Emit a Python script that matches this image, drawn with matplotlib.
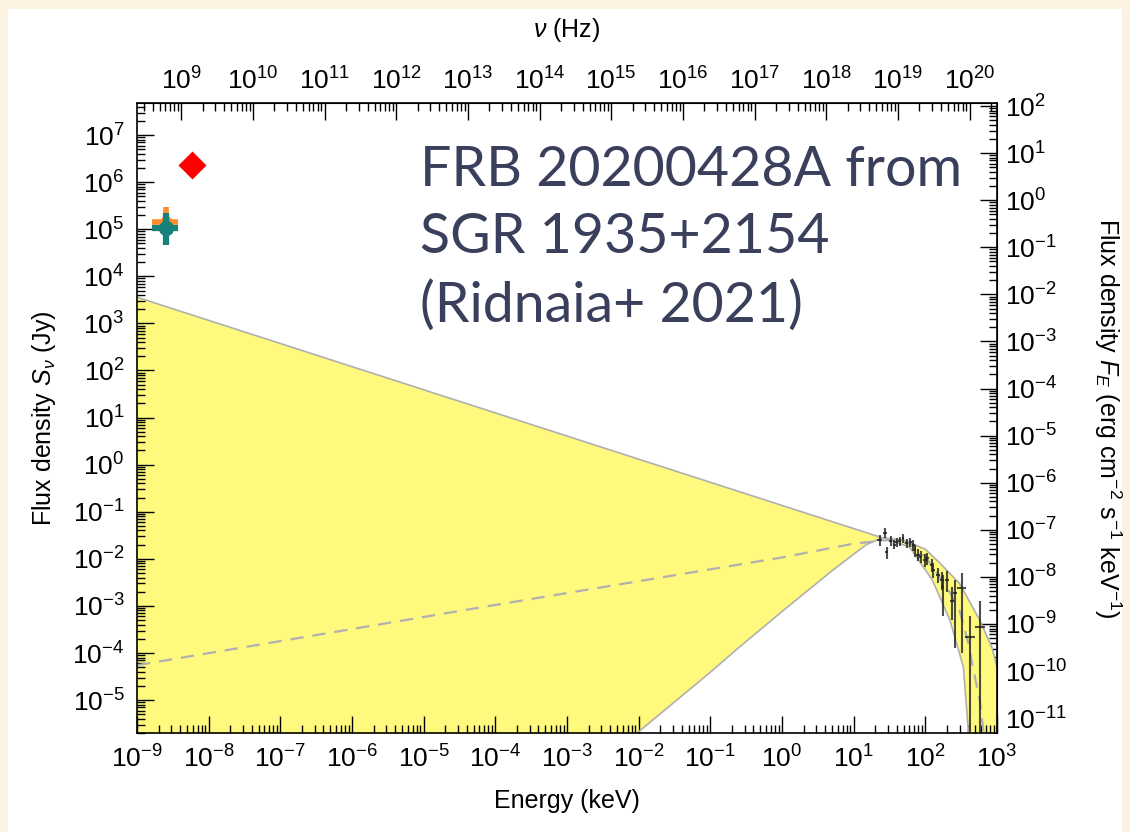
import matplotlib
matplotlib.use("Agg")
import matplotlib.pyplot as plt
import matplotlib.ticker as mticker
from matplotlib.patches import Rectangle
import numpy as np

plt.rcParams['font.family'] = ['Liberation Sans', 'DejaVu Sans']
plt.rcParams['mathtext.fontset'] = 'custom'
plt.rcParams['mathtext.rm'] = 'Liberation Sans'
plt.rcParams['mathtext.it'] = 'Liberation Sans:italic'
plt.rcParams['mathtext.bf'] = 'Liberation Sans:bold'

# keV -> Hz and Jy -> erg cm^-2 s^-1 keV^-1
KEV_TO_HZ = 2.418e17
JY_TO_FE = 2.418e-6

# --- model envelope ---
upper_E = [1e-9, 25, 50, 100, 160, 300, 575, 850, 1000]
upper_S = [3.6e3, 2.8e-2, 2.5e-2, 1.6e-2, 8.1e-3, 3.0e-3, 5.0e-4, 1.3e-4, 5.0e-5]
lower_E = [9.5e-3, 0.1, 0.234, 1.0, 5.0, 15, 25, 60, 126, 220, 340, 400]
lower_S = [2.0e-6, 3.9e-5, 1.2e-4, 7.6e-4, 5.6e-3, 2.0e-2, 2.8e-2, 1.8e-2, 3.5e-3, 5.0e-4, 5.0e-5, 2.0e-6]
dash_E = [1e-9, 1e-4, 1.0, 10, 30, 60, 100, 200, 300, 400, 460, 575, 650]
dash_S = [5.5e-5, 1.05e-3, 1.07e-2, 2.1e-2, 2.5e-2, 2.1e-2, 1.1e-2, 2.5e-3, 8.0e-4, 1.6e-4, 5.0e-5, 1.0e-5, 2.0e-6]

# --- X-ray data points ---
xr_E = [23, 27.5, 29, 33, 37, 40, 44, 49, 55, 62, 68, 72, 79, 86, 99, 106,
        123, 130, 152, 170, 175, 200, 235, 260, 325, 420, 575]
xr_Elo = [21.5, 26, 27.5, 31.5, 35.5, 38, 42, 47, 52.5, 59, 65, 69, 75, 82, 94, 101,
          116, 123, 143, 160, 165, 188, 220, 243, 280, 360, 490]
xr_Ehi = [24.5, 29, 30.5, 34.5, 38.5, 42, 46, 51, 57.5, 65, 71, 75, 83, 90, 104, 111,
          130, 137, 161, 180, 185, 212, 250, 277, 370, 490, 670]
xr_S = [0.0251, 0.0355, 0.0138, 0.024, 0.020, 0.0224, 0.0234, 0.0275, 0.0214, 0.0224,
        0.0195, 0.0151, 0.012, 0.011, 0.0093, 0.0102, 0.0074, 0.0058, 0.0045, 0.0035,
        0.0025, 0.0035, 0.0013, 0.0019, 0.0024, 2.2e-4, 3.5e-4]
xr_Slo = [0.019, 0.028, 0.010, 0.019, 0.016, 0.018, 0.019, 0.022, 0.017, 0.018,
          0.015, 0.011, 0.009, 0.008, 0.0068, 0.0075, 0.0052, 0.0040, 0.0030, 0.0022,
          0.0006, 0.0020, 0.0005, 0.00013, 0.0001, 1e-6, 1e-6]
xr_Shi = [0.032, 0.045, 0.018, 0.030, 0.025, 0.028, 0.029, 0.034, 0.027, 0.028,
          0.025, 0.020, 0.016, 0.015, 0.0125, 0.0135, 0.010, 0.0082, 0.0065, 0.0052,
          0.0045, 0.0055, 0.0025, 0.0035, 0.0050, 6.0e-4, 1.3e-3]

# --- radio points ---
radio_E = [2.5e-9]
orange_S, orange_Slo, orange_Shi = [1.4e5], [6.8e4], [2.95e5]
teal_S, teal_Slo, teal_Shi = [1.05e5], [4.6e4], [2.2e5]
radio_Elo, radio_Ehi = [1.62e-9], [3.7e-9]
red_E, red_S = [5.9e-9], [2.3e6]

fig = plt.figure(figsize=(11.3, 8.32), dpi=100, facecolor='#fdf3e3')
fig.patches.append(Rectangle((8 / 1130, 0), 1114 / 1130, 823 / 832,
                             transform=fig.transFigure, facecolor='white',
                             edgecolor='none', zorder=-10))
ax = fig.add_axes([137 / 1130, 1 - 733 / 832, 860 / 1130, 630 / 832])
ax.set_xscale('log')
ax.set_yscale('log')
ax.patch.set_alpha(0)

# yellow envelope: everything under the upper curve except the notch under the lower curve
poly_E = upper_E + [1000, 1000] + lower_E[::-1] + [1e-9]
poly_S = upper_S + [1e-7, 1e-7] + lower_S[::-1] + [1e-7]
ax.fill(poly_E, poly_S, color='#fffa7d', lw=0, zorder=1)
ax.plot(upper_E, upper_S, color='#b0b0b0', lw=1.2, zorder=2)
ax.plot(lower_E, lower_S, color='#b0b0b0', lw=1.2, zorder=2)
ax.plot(dash_E, dash_S, color='#b0b0b0', lw=1.6, ls=(0, (6, 4)), zorder=2)

# X-ray data
xr_E_a = np.array(xr_E)
xr_S_a = np.array(xr_S)
xerr = [xr_E_a - np.array(xr_Elo), np.array(xr_Ehi) - xr_E_a]
yerr = [xr_S_a - np.array(xr_Slo), np.array(xr_Shi) - xr_S_a]
ax.errorbar(xr_E, xr_S, xerr=xerr, yerr=yerr, fmt='none', ecolor='#222222',
            elinewidth=1.5, alpha=0.8, zorder=3)

# radio points
rE = np.array(radio_E)
xerr_r = [rE - np.array(radio_Elo), np.array(radio_Ehi) - rE]
ax.errorbar(radio_E, orange_S,
            yerr=[np.array(orange_S) - orange_Slo, np.array(orange_Shi) - orange_S],
            xerr=xerr_r, fmt='o', color='#ff8c2a', ms=8, elinewidth=4, capsize=0, zorder=5)
ax.errorbar(radio_E, teal_S,
            yerr=[np.array(teal_S) - teal_Slo, np.array(teal_Shi) - teal_S],
            xerr=xerr_r, fmt='o', color='#16807a', ms=10, elinewidth=4.5, capsize=0, zorder=6)
ax.plot(red_E, red_S, 'D', color='#ff0000', ms=14, mec='none', zorder=6)

ax.set_xlim(1e-9, 1e3)
ax.set_ylim(2e-6, 4.8e7)

ax.xaxis.set_major_locator(mticker.LogLocator(base=10, numticks=40))
ax.xaxis.set_minor_locator(mticker.LogLocator(base=10, subs=np.arange(2, 10), numticks=400))
ax.yaxis.set_major_locator(mticker.LogLocator(base=10, numticks=40))
ax.yaxis.set_minor_locator(mticker.LogLocator(base=10, subs=np.arange(2, 10), numticks=400))
ax.tick_params(which='both', direction='in', top=False, right=False, labelsize=19, width=1)
ax.tick_params(which='major', length=12, pad=9)
ax.tick_params(which='minor', length=6)

sec_x = ax.secondary_xaxis('top', functions=(lambda e: e * KEV_TO_HZ, lambda n: n / KEV_TO_HZ))
sec_x.xaxis.set_major_locator(mticker.LogLocator(base=10, numticks=40))
sec_x.xaxis.set_minor_locator(mticker.LogLocator(base=10, subs=np.arange(2, 10), numticks=400))
sec_x.tick_params(which='both', direction='in', labelsize=19, width=1)
sec_x.tick_params(which='major', length=12, pad=6)
sec_x.tick_params(which='minor', length=6)
sec_x.set_xlabel(r'$\nu$ (Hz)', fontsize=18, labelpad=22)

sec_y = ax.secondary_yaxis('right', functions=(lambda s: s * JY_TO_FE, lambda f: f / JY_TO_FE))
sec_y.yaxis.set_major_locator(mticker.LogLocator(base=10, numticks=40))
sec_y.yaxis.set_minor_locator(mticker.LogLocator(base=10, subs=np.arange(2, 10), numticks=400))
sec_y.tick_params(which='both', direction='in', labelsize=19, width=1)
sec_y.tick_params(which='major', length=12, pad=6)
sec_y.tick_params(which='minor', length=6)
sec_y.set_ylabel(r'Flux density $F_E$ (erg cm$^{-2}$ s$^{-1}$ keV$^{-1}$)',
                 fontsize=18, rotation=270, labelpad=40)

ax.set_xlabel('Energy (keV)', fontsize=18, labelpad=12)
ax.set_ylabel(r'Flux density $S_\nu$ (Jy)', fontsize=18, labelpad=10)

for sp in ax.spines.values():
    sp.set_linewidth(1.2)

fig.text(420 / 1130, 1 - 145 / 832, 'FRB 20200428A from\nSGR 1935+2154\n(Ridnaia+ 2021)',
         ha='left', va='top', fontsize=40, color='#3a3f5c', family=['Lato', 'DejaVu Sans'],
         linespacing=1.4)

fig.savefig('out.png', dpi=100, facecolor=fig.get_facecolor())
